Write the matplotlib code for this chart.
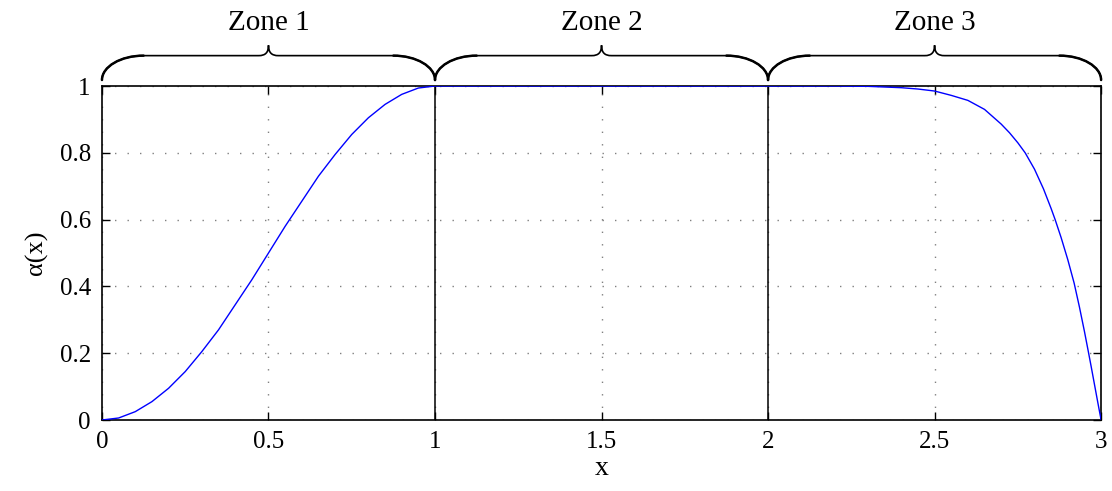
import matplotlib
matplotlib.use('Agg')
import matplotlib.pyplot as plt
from matplotlib.path import Path
from matplotlib.patches import PathPatch
import matplotlib.transforms as mtransforms

plt.rcParams['font.family'] = ['Liberation Serif', 'DejaVu Serif']

# curve values
x_vals = [0.0, 0.05, 0.1, 0.15, 0.2, 0.25, 0.3, 0.35, 0.4, 0.45, 0.5, 0.55, 0.6, 0.65,
          0.7, 0.75, 0.8, 0.85, 0.9, 0.95, 1.0,
          2.0, 2.2, 2.3, 2.35, 2.4, 2.45, 2.5, 2.55, 2.6, 2.65, 2.7, 2.725, 2.75, 2.772,
          2.8, 2.827, 2.85, 2.862, 2.88, 2.9, 2.919, 2.935, 2.95, 2.962, 2.97, 2.98,
          2.99, 3.0]
alpha_vals = [0.0, 0.006, 0.025, 0.055, 0.095, 0.145, 0.205, 0.27, 0.345, 0.42, 0.5, 0.58,
              0.655, 0.73, 0.795, 0.855, 0.905, 0.945, 0.975, 0.994, 1.0,
              1.0, 1.0, 0.999, 0.997, 0.995, 0.991, 0.985, 0.972, 0.957, 0.93, 0.886,
              0.86, 0.83, 0.80, 0.751, 0.692, 0.633, 0.60, 0.546, 0.48, 0.41, 0.338,
              0.265, 0.203, 0.161, 0.107, 0.053, 0.0]

zone_names = ['Zone 1', 'Zone 2', 'Zone 3']
zone_edges = [0, 1, 2, 3]
x_ticks = [0, 0.5, 1, 1.5, 2, 2.5, 3]
x_ticklabels = ['0', '0.5', '1', '1.5', '2', '2.5', '3']
y_ticks = [0, 0.2, 0.4, 0.6, 0.8, 1]
y_ticklabels = ['0', '0.2', '0.4', '0.6', '0.8', '1']

fig = plt.figure(figsize=(11.12, 4.91), dpi=100)
ax = fig.add_axes([0.0917, 0.1446, 0.8985, 0.6802])

ax.plot(x_vals, alpha_vals, color='blue', lw=1.0, zorder=3)

# zone boundaries
for xb in zone_edges[1:-1]:
    ax.axvline(xb, color='black', lw=1.1, zorder=2)

ax.set_xlim(0, 3)
ax.set_ylim(0, 1)
ax.set_xticks(x_ticks)
ax.set_xticklabels(x_ticklabels)
ax.set_yticks(y_ticks)
ax.set_yticklabels(y_ticklabels)
ax.tick_params(direction='in', top=True, right=True, length=6, width=1,
               labelsize=18, pad=8)
ax.grid(True, color='#808080', linestyle=(0, (1, 8)), lw=1.0)
for s in ax.spines.values():
    s.set_linewidth(1.2)

ax.set_xlabel('x', fontsize=20, labelpad=2)
ax.set_ylabel('α(x)', fontsize=19, labelpad=8)

# curly braces above each zone
trans = mtransforms.blended_transform_factory(ax.transData, ax.transAxes)
y_tip, y_h, y_c = 1.018, 1.091, 1.122
w = 0.125
c = 0.03
for i, name in enumerate(zone_names):
    x0, x1 = zone_edges[i], zone_edges[i + 1]
    xm = 0.5 * (x0 + x1)
    ym = y_tip + 0.55 * (y_h - y_tip)
    left_end = [(x0, y_tip), (x0, ym), (x0 + 0.45 * w, y_h), (x0 + w, y_h)]
    right_end = [(x1 - w, y_h), (x1 - 0.45 * w, y_h), (x1, ym), (x1, y_tip)]
    verts = left_end + [
        (xm - c, y_h),
        (xm - 0.3 * c, y_h), (xm, y_h + 0.3 * (y_c - y_h)), (xm, y_c),
        (xm, y_h + 0.3 * (y_c - y_h)), (xm + 0.3 * c, y_h), (xm + c, y_h)] + right_end
    codes = ([Path.MOVETO] + [Path.CURVE4] * 3 + [Path.LINETO] + [Path.CURVE4] * 6
             + [Path.LINETO] + [Path.CURVE4] * 3)
    ax.add_patch(PathPatch(Path(verts, codes), transform=trans, fill=False,
                           edgecolor='black', lw=1.2, clip_on=False))
    end_codes = [Path.MOVETO] + [Path.CURVE4] * 3
    for end in (left_end, right_end):
        ax.add_patch(PathPatch(Path(end, end_codes), transform=trans, fill=False,
                               edgecolor='black', lw=1.8, clip_on=False,
                               capstyle='round'))
    ax.text(xm, 1.19, name, transform=trans, ha='center', va='center', fontsize=21)

fig.savefig('out.png', dpi=100)
